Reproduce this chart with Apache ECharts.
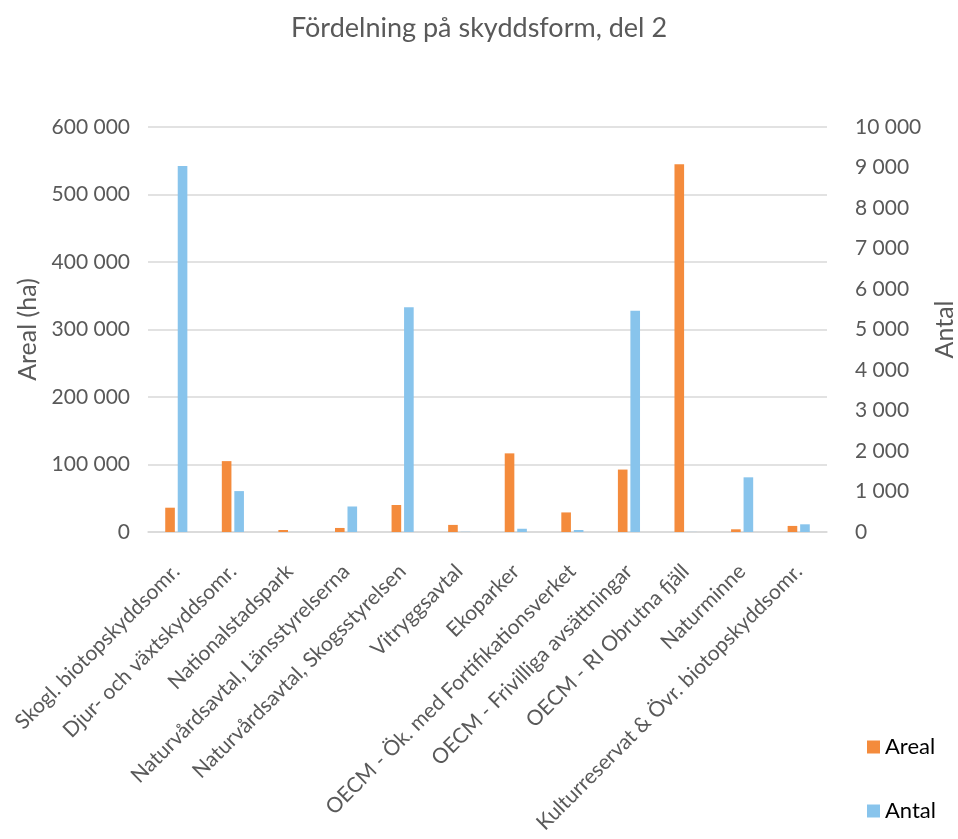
<!DOCTYPE html>
<html>
<head>
<meta charset="utf-8">
<script src="https://cdn.jsdelivr.net/npm/echarts@6/dist/echarts.min.js"></script>
<style>html,body{margin:0;padding:0;background:#fff;}#c{width:958px;height:839px;}</style>
</head>
<body>
<div id="c"></div>
<script>
const categories = ["Skogl. biotopskyddsomr.", "Djur- och växtskyddsomr.", "Nationalstadspark", "Naturvårdsavtal, Länsstyrelserna", "Naturvårdsavtal, Skogsstyrelsen", "Vitryggsavtal", "Ekoparker", "OECM - Ök. med Fortifikationsverket", "OECM - Frivilliga avsättningar", "OECM - RI Obrutna fjäll", "Naturminne", "Kulturreservat & Övr. biotopskyddsomr."];
const areal = [36000, 105000, 3000, 6000, 40000, 10500, 116500, 29000, 92500, 545000, 4000, 9000];
const antal = [9040, 1010, 1, 630, 5550, 5, 80, 50, 5460, 3, 1350, 190];
const leftTicks = {min: 0, max: 600000, interval: 100000};
const rightTicks = {min: 0, max: 10000, interval: 1000};

function fmt(v){ return String(v).replace(/\B(?=(\d{3})+(?!\d))/g, ' '); }
const FONT = 'Lato';
const TXT = '#595959';
const chart = echarts.init(document.getElementById('c'));
chart.setOption({
  animation: false,
  textStyle: {fontFamily: FONT},
  title: {text: 'Fördelning på skyddsform, del 2', left: 'center', top: 10,
    textStyle: {fontFamily: FONT, fontSize: 27, fontWeight: 'normal', color: TXT}},
  legend: {orient: 'vertical', left: 862, top: 731, itemGap: 42, itemWidth: 13, itemHeight: 13, icon: 'rect',
    textStyle: {fontFamily: FONT, fontSize: 22, color: '#000'}, data: ['Areal', 'Antal']},
  grid: {left: 148, right: 131, top: 127, bottom: 307, containLabel: false, outerBoundsMode: 'none'},
  xAxis: {type: 'category', data: categories,
    axisLine: {show: true, lineStyle: {color: '#D9D9D9', width: 1.5}},
    axisTick: {show: false},
    axisLabel: {rotate: 45, interval: 0, fontSize: 21, color: TXT, fontFamily: FONT, margin: 36}},
  yAxis: [
    {type: 'value', min: leftTicks.min, max: leftTicks.max, interval: leftTicks.interval,
     name: 'Areal (ha)', nameLocation: 'middle', nameGap: 104, nameRotate: 90,
     nameTextStyle: {fontSize: 25, color: TXT, fontFamily: FONT},
     axisLine: {show: false}, axisTick: {show: false},
     axisLabel: {fontSize: 21, color: TXT, fontFamily: FONT, margin: 18, formatter: fmt},
     splitLine: {lineStyle: {color: '#D9D9D9', width: 1.5}}},
    {type: 'value', min: rightTicks.min, max: rightTicks.max, interval: rightTicks.interval,
     name: 'Antal', nameLocation: 'middle', nameGap: 103, nameRotate: 90,
     nameTextStyle: {fontSize: 25, color: TXT, fontFamily: FONT},
     axisLine: {show: false}, axisTick: {show: false},
     axisLabel: {fontSize: 21, color: TXT, fontFamily: FONT, margin: 28, formatter: fmt},
     splitLine: {show: false}}
  ],
  series: [
    {name: 'Areal', type: 'bar', yAxisIndex: 0, data: areal, barWidth: '17%', barGap: '30%',
     itemStyle: {color: '#F48B3C'}},
    {name: 'Antal', type: 'bar', yAxisIndex: 1, data: antal, barWidth: '17%',
     itemStyle: {color: '#88C4EC'}}
  ]
});
</script>
</body>
</html>
